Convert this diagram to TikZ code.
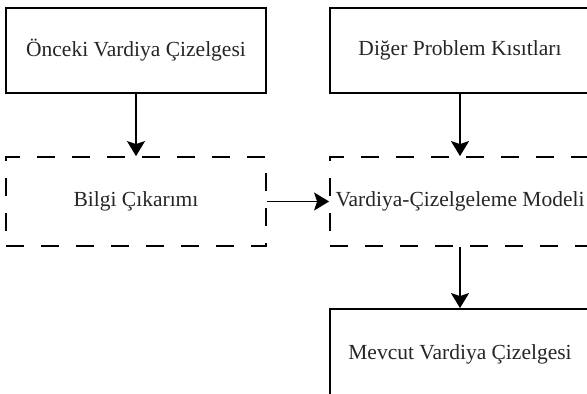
\documentclass[tikz,border=0pt]{standalone}
\usepackage{fontspec}
\setmainfont{Liberation Serif}
\usetikzlibrary{arrows.meta}
\begin{document}
\begin{tikzpicture}[x=1pt,y=1pt,
  box/.style={draw=black, line width=1.8pt, rectangle, inner sep=0pt, minimum width=260pt, font=\fontsize{21.5}{24}\selectfont, text=black!85},
  dbox/.style={box, dash pattern=on 18pt off 17pt},
  arr/.style={line width=1.8pt, -{Stealth[length=15pt, width=18pt, inset=3pt]}}]
\path[use as bounding box] (0,0) rectangle (587,-394);
\clip (0,0) rectangle (587,-394);
\fill[white] (0,0) rectangle (587,-394);
\node[box, minimum height=85pt] (b1) at (136,-50.5) {Önceki Vardiya Çizelgesi};
\node[box, minimum height=85pt] (b2) at (460,-50.5) {Diğer Problem Kısıtları};
\node[dbox, minimum height=89pt] (d1) at (136,-201.5) {Bilgi Çıkarımı};
\node[dbox, minimum height=89pt] (d2) at (460,-201.5) {Vardiya-Çizelgeleme Modeli};
\node[box, minimum height=90pt] (b3) at (460,-354) {Mevcut Vardiya Çizelgesi};
\draw[arr] (b1) -- (d1);
\draw[arr] (b2) -- (d2);
\draw[arr] (d1) -- (d2);
\draw[arr] (d2) -- (b3);
\end{tikzpicture}
\end{document}
